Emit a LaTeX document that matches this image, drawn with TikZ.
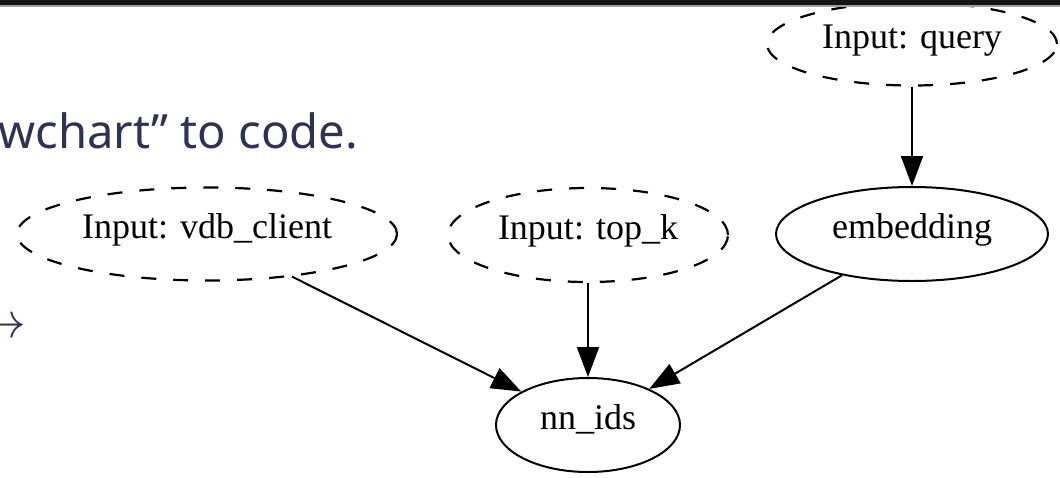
\documentclass[tikz,border=0pt]{standalone}
\usepackage{fontspec}
\setmainfont{Liberation Serif}
\newfontfamily\uisans{Noto Sans}
\usetikzlibrary{arrows.meta,shapes.geometric}
\definecolor{slide}{HTML}{2E3352}
\definecolor{topbar}{HTML}{151515}
\tikzset{
  gnode/.style={ellipse, draw=black, line width=1pt, inner sep=0pt,
    font=\fontsize{18pt}{20pt}\selectfont, text height=0.68em, text depth=0.22em},
  inputnode/.style={gnode, dash pattern=on 7.5pt off 8.5pt, line width=1.1pt},
  edge/.style={draw=black, line width=1pt, -{Triangle[length=15pt,width=11pt]}},
  slidetext/.style={text=slide, inner sep=0pt}
}
\begin{document}
\begin{tikzpicture}[x=0.5pt, y=-0.5pt]
  \useasboundingbox (0,0) rectangle (1060,477);
  \fill[white] (0,0) rectangle (1060,477);

  % text from the slide behind the graph
  \node[slidetext, anchor=base west, font=\uisans\fontsize{23.6pt}{26pt}\selectfont] (caption) at (-2,148) {wchart” to code.};
  \node[slidetext, anchor=east, font=\fontsize{28pt}{30pt}\selectfont] (pointer) at (27,328) {$\rightarrow$};

  % graph nodes
  \node[inputnode, minimum width=145pt, minimum height=41.5pt] (query) at (912,44) {Input: query};
  \node[inputnode, minimum width=190pt, minimum height=46.5pt] (vdb) at (207,234) {Input: vdb\_client};
  \node[inputnode, minimum width=140pt, minimum height=47pt] (topk) at (588,235) {Input: top\_k};
  \node[gnode, minimum width=136pt, minimum height=47pt] (emb) at (912,234) {embedding};
  \node[gnode, minimum width=92pt, minimum height=47pt] (nn) at (588,425) {nn\_ids};

  % edges
  \draw[edge] (query) -- (emb);
  \draw[edge] (vdb) -- (nn);
  \draw[edge] (topk) -- (nn);
  \draw[edge] (emb) -- (nn);

  % dark window bar along the top
  \fill[topbar] (0,0) rectangle (1060,5);
  \fill[gray!75] (0,5) rectangle (1060,7);
\end{tikzpicture}
\end{document}
